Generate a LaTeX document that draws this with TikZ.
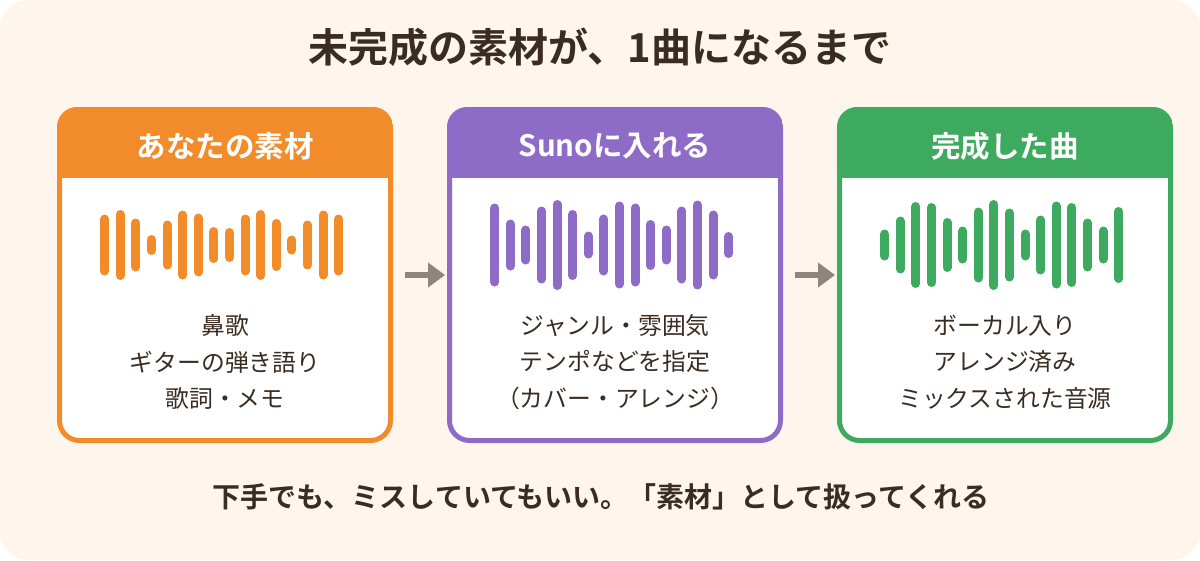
\documentclass[tikz,border=0pt]{standalone}
\usepackage{fontspec}
\setmainfont{Noto Sans CJK JP}[BoldFont={Noto Sans CJK JP Bold}]
\usetikzlibrary{arrows.meta}
\definecolor{bgc}{HTML}{FEF6EC}
\definecolor{txt}{HTML}{3B2C22}
\definecolor{cor}{HTML}{F28C2B}
\definecolor{cpu}{HTML}{8E6BC6}
\definecolor{cgr}{HTML}{3DAA5F}
\definecolor{arr}{HTML}{8F857C}
\tikzset{
  panelbox/.style={draw=#1, line width=5pt, fill=white, rounded corners=20pt,
    minimum width=331pt, minimum height=331pt, inner sep=0pt},
  headtext/.style={text=white, font=\fontsize{29.5}{34}\selectfont\bfseries},
  bodytext/.style={text=txt, align=center, font=\fontsize{23.8}{36.5}\selectfont},
  bar/.style={line width=9pt, line cap=round, draw=#1},
  flow/.style={draw=arr, line width=6pt, -{Triangle[length=17pt,width=24pt]}},
}
\newcommand\panel[6]{%
  \node[panelbox=#3] (#1) at (#2,275) {};
  \begin{scope}
    \clip[rounded corners=20pt] (#1.north west) rectangle (#1.south east);
    \fill[#3] (#1.north west) rectangle ([yshift=-70.5pt]#1.north east);
  \end{scope}
  \node[headtext] (#1h) at (#2,146) {#4};
  \foreach \h [count=\i from 0] in {#5}{
    \draw[bar=#3] (#2-120.33+\i*15.6, 245-\h/2+4.5) -- (#2-120.33+\i*15.6, 245+\h/2-4.5);
  }
  \node[bodytext] (#1t) at (#2,362) {#6};
}
\begin{document}
\begin{tikzpicture}[x=1pt,y=-1pt]
\useasboundingbox (0,0) rectangle (1200,560);
\fill[bgc, rounded corners=28pt] (0,0) rectangle (1200,560);
\node[text=txt, font=\fontsize{40}{46}\selectfont\bfseries] (title) at (600,47) {未完成の素材が、1曲になるまで};
\panel{b1}{225}{cor}{あなたの素材}{61,70,53,20,49,69,63,36,34,61,70,52,19,49,69,61}{鼻歌\\ギターの弾き語り\\歌詞・メモ}
\panel{b2}{615}{cpu}{Sunoに入れる}{83,51,39,77,90,70,27,61,87,83,50,39,77,89,69,26}{ジャンル・雰囲気\\テンポなどを指定\\（カバー・アレンジ）}
\panel{b3}{1005}{cgr}{完成した曲}{31,57,86,84,54,37,75,90,73,31,59,87,84,53,37,76}{ボーカル入り\\アレンジ済み\\ミックスされた音源}
\draw[flow] ([xshift=12pt]b1.east) -- ([xshift=-2pt]b2.west);
\draw[flow] ([xshift=12pt]b2.east) -- ([xshift=-2pt]b3.west);
\node[text=txt, font=\fontsize{28}{32}\selectfont\bfseries] (note) at (601,497) {下手でも、ミスしていてもいい。「素材」として扱ってくれる};
\end{tikzpicture}
\end{document}
